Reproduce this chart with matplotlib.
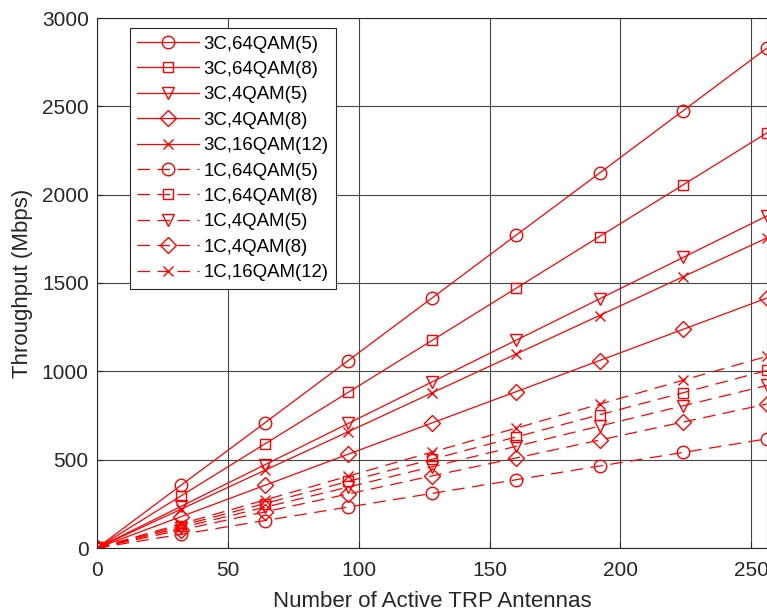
import numpy as np
import matplotlib
matplotlib.use("Agg")
import matplotlib.pyplot as plt

plt.rcParams['font.family'] = ['Liberation Sans', 'DejaVu Sans']

# antennas on x, throughput (Mbps) on y
antennas = [0, 32, 64, 96, 128, 160, 192, 224, 256]

c3_64qam5 = [0, 354, 707, 1061, 1415, 1769, 2122, 2476, 2830]
c3_64qam8 = [0, 294, 588, 881, 1175, 1469, 1763, 2056, 2350]
c3_4qam5 = [0, 235, 470, 705, 940, 1175, 1410, 1645, 1880]
c3_4qam8 = [0, 177, 354, 531, 708, 884, 1061, 1238, 1415]
c3_16qam12 = [0, 219, 439, 658, 878, 1097, 1316, 1536, 1755]
c1_64qam5 = [0, 77, 155, 232, 309, 386, 464, 541, 618]
c1_64qam8 = [0, 126, 251, 377, 502, 628, 754, 879, 1005]
c1_4qam5 = [0, 115, 230, 345, 460, 575, 690, 805, 920]
c1_4qam8 = [0, 102, 204, 306, 408, 509, 611, 713, 815]
c1_16qam12 = [0, 136, 271, 407, 543, 678, 814, 950, 1085]

labels = ['3C,64QAM(5)', '3C,64QAM(8)', '3C,4QAM(5)', '3C,4QAM(8)', '3C,16QAM(12)',
          '1C,64QAM(5)', '1C,64QAM(8)', '1C,4QAM(5)', '1C,4QAM(8)', '1C,16QAM(12)']
series = [c3_64qam5, c3_64qam8, c3_4qam5, c3_4qam8, c3_16qam12,
          c1_64qam5, c1_64qam8, c1_4qam5, c1_4qam8, c1_16qam12]
markers = ['o', 's', 'v', 'D', 'x'] * 2
styles = ['-'] * 5 + [(0, (10, 6))] * 5
sizes = {'o': 9, 's': 7.5, 'v': 9, 'D': 8, 'x': 7}

fig = plt.figure(figsize=(7.67, 6.12), dpi=100)
ax = fig.add_axes([97/767, 64/612, 670/767, 530/612])

for y, lab, m, ls in zip(series, labels, markers, styles):
    ax.plot(antennas, y, color='red', linestyle=ls, linewidth=0.9,
            marker=m, markersize=sizes[m], markerfacecolor='none',
            markeredgecolor='red', markeredgewidth=1.0, label=lab)

ax.set_xlim(0, 256)
ax.set_ylim(0, 3000)
ax.set_xticks([0, 50, 100, 150, 200, 250])
ax.set_yticks([0, 500, 1000, 1500, 2000, 2500, 3000])
ax.grid(True, color='#262626', linewidth=0.8, alpha=0.85)
ax.tick_params(direction='in', labelsize=15, length=4, colors='#262626')
ax.tick_params(axis='x', pad=9)
ax.tick_params(axis='y', pad=6)
for s in ax.spines.values():
    s.set_color('#262626')
    s.set_linewidth(0.8)
ax.set_xlabel('Number of Active TRP Antennas', fontsize=16, color='#262626', labelpad=8)
ax.set_ylabel('Throughput (Mbps)', fontsize=16, color='#262626', labelpad=6)

leg = ax.legend(loc='upper left', bbox_to_anchor=(0.049, 0.981), borderaxespad=0,
                fontsize=13.4, fancybox=False, edgecolor='#262626', framealpha=1,
                handlelength=3.3, labelspacing=0.45, handletextpad=0.25, borderpad=0.4)
leg.get_frame().set_linewidth(0.8)

fig.savefig('out.png', dpi=100)
